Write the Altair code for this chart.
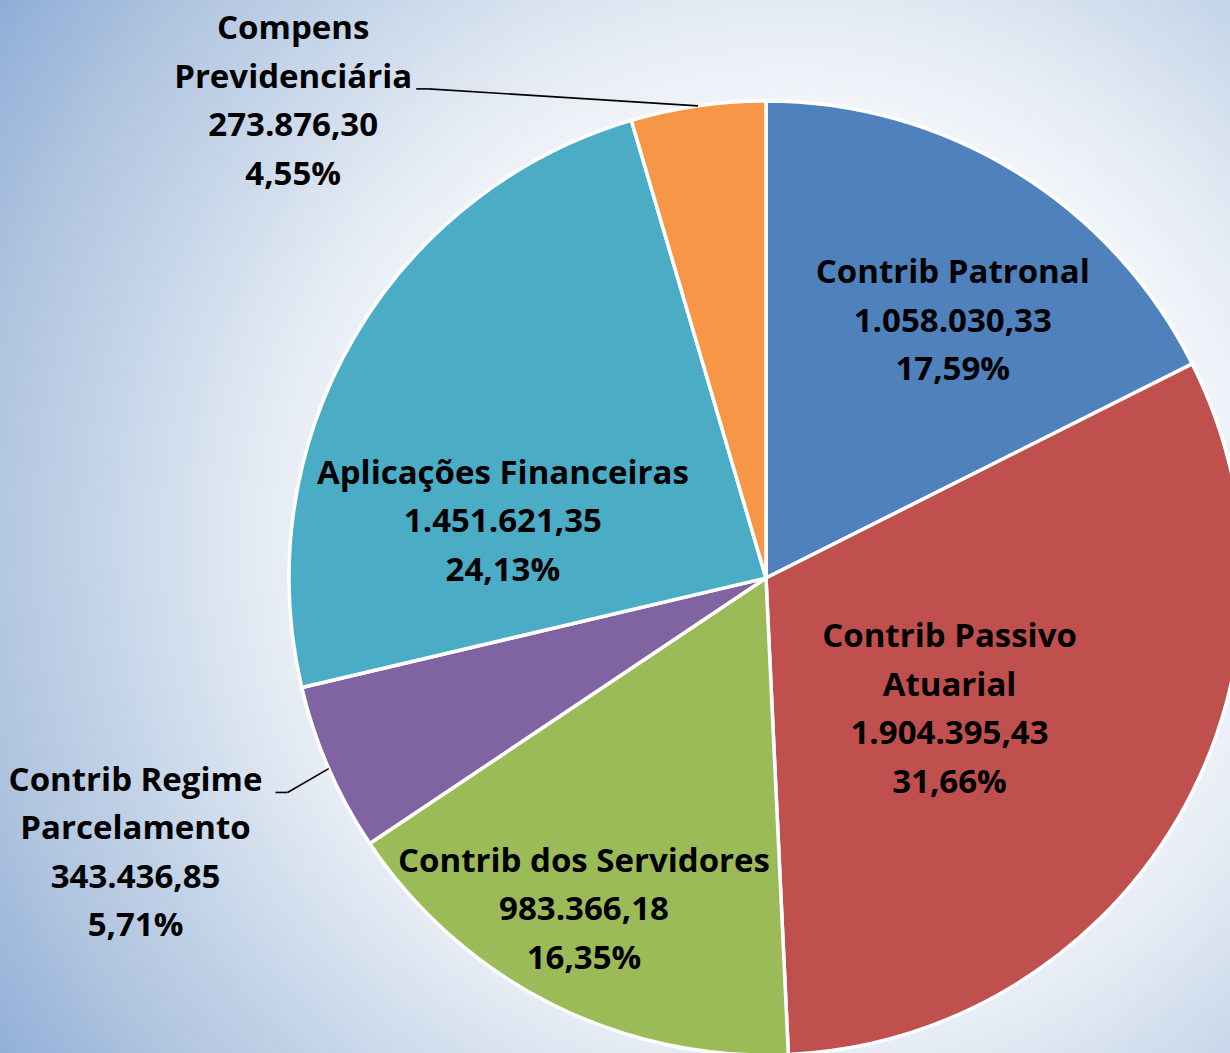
import altair as alt
import pandas as pd

# ---- data ----
categories = ["Contrib Patronal", "Contrib Passivo Atuarial", "Contrib dos Servidores",
              "Contrib Regime Parcelamento", "Aplicações Financeiras", "Compens Previdenciária"]
label_names = ["Contrib Patronal", "Contrib Passivo\nAtuarial", "Contrib dos Servidores",
               "Contrib Regime\nParcelamento", "Aplicações Financeiras", "Compens\nPrevidenciária"]
values = [1058030.33, 1904395.43, 983366.18, 343436.85, 1451621.35, 273876.30]
colors = ["#4F81BD", "#C0504D", "#9BBB59", "#8064A2", "#4BACC6", "#F79646"]

# ---- label placement (polar around pie centre: degrees clockwise from 12 o'clock, px) ----
label_angle = [36.1, 125.7, 208.7, 246.4, 282.0, 315.2]
label_radius = [317, 226, 379, 688, 269, 671]
leader_dx = [0, 0, 0, 140, 0, 123]
leader_dy = [0, 0, 0, -61, 0, -13]
has_leader = [0, 0, 0, 1, 0, 1]

W, H = 1230, 1053
CX, CY, R = 766, 578, 477
LH = 48.5

total = sum(values)


def br_num(v):
    s = f"{v:,.2f}"
    return s.replace(",", "X").replace(".", ",").replace("X", ".")


texts = [f"{n}\n{br_num(v)}\n" + f"{v / total * 100:.2f}".replace(".", ",") + "%"
         for n, v in zip(label_names, values)]
nlines = [t.count("\n") + 1 for t in texts]

df = pd.DataFrame({
    "category": categories,
    "value": values,
    "idx": list(range(len(values))),
    "text": texts,
    "nl": nlines,
    "la": label_angle,
    "lr": label_radius,
    "ldx": leader_dx,
    "ldy": leader_dy,
    "lead": has_leader,
})

background = alt.Chart(alt.Data(values=[{"a": 1}])).mark_rect(
    fill={
        "gradient": "radial",
        "x1": 0.642, "y1": 0.511, "r1": 0,
        "x2": 0.642, "y2": 0.511, "r2": 0.78,
        "stops": [
            {"offset": 0.0, "color": "#ffffff"},
            {"offset": 0.35, "color": "#ffffff"},
            {"offset": 0.55, "color": "#E5EBF4"},
            {"offset": 0.73, "color": "#C2D3E8"},
            {"offset": 0.83, "color": "#B3C6E0"},
            {"offset": 1.0, "color": "#8DADD6"},
        ],
    }
).encode(x=alt.value(0), x2=alt.value(W), y=alt.value(0), y2=alt.value(H))

pie = alt.Chart(df).mark_arc(radius=R, stroke="white", strokeWidth=3.5).encode(
    theta=alt.Theta("value:Q", stack=True),
    color=alt.Color("category:N", scale=alt.Scale(domain=categories, range=colors), legend=None),
    order=alt.Order("idx:Q"),
    x=alt.value(CX),
    y=alt.value(CY),
)

geo = alt.Chart(df).transform_joinaggregate(
    total="sum(value)"
).transform_window(
    cum="sum(value)", sort=[alt.SortField("idx")], frame=[None, 0]
).transform_calculate(
    mid="2*PI*(datum.cum - datum.value/2)/datum.total",
    px=f"{CX} + {R}*sin(datum.mid)",
    py=f"{CY} - {R}*cos(datum.mid)",
    lx=f"{CX} + datum.lr*sin(datum.la*PI/180)",
    ly=f"{CY} - datum.lr*cos(datum.la*PI/180)",
).transform_calculate(
    ty=f"datum.ly - (datum.nl - 1) * {LH} / 2",
    ex="datum.lx + datum.ldx",
    ey="datum.ly + datum.ldy",
    ex2="datum.lx + datum.ldx + 12",
)

labels = geo.mark_text(
    font="Open Sans", fontWeight="bold", fontSize=33, lineHeight=LH,
    align="center", baseline="middle", color="black", lineBreak="\n",
).encode(
    x=alt.X("lx:Q", scale=None, axis=None),
    y=alt.Y("ty:Q", scale=None, axis=None),
    text="text:N",
)

elbow = geo.transform_filter("datum.lead == 1").mark_rule(color="black", strokeWidth=1.6).encode(
    x=alt.X("ex:Q", scale=None), x2="ex2:Q",
    y=alt.Y("ey:Q", scale=None), y2="ey:Q",
)
leader = geo.transform_filter("datum.lead == 1").mark_rule(color="black", strokeWidth=1.6).encode(
    x=alt.X("ex2:Q", scale=None), x2="px:Q",
    y=alt.Y("ey:Q", scale=None), y2="py:Q",
)

chart = alt.layer(background, pie, elbow, leader, labels).properties(
    width=W, height=H, padding=0,
    autosize=alt.AutoSizeParams(type="none"),
).configure_view(stroke=None)

chart.save("out.html", embed_options={"renderer": "svg", "actions": False})
